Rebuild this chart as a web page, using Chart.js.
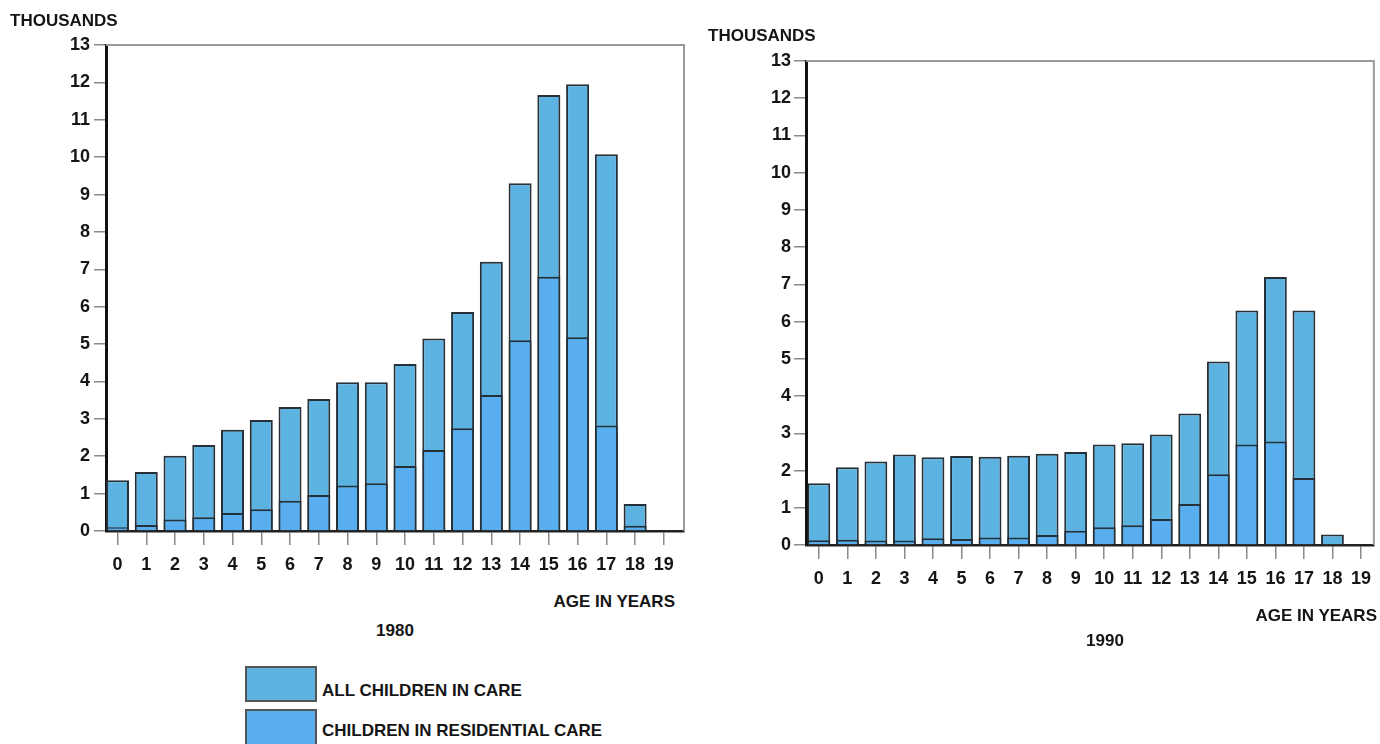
<!DOCTYPE html>
<html>
<head>
<meta charset="utf-8">
<script src="https://cdn.jsdelivr.net/npm/chart.js@4.4.1/dist/chart.umd.min.js"></script>
<style>
  html, body { margin:0; padding:0; background:#fff; }
  body { width:1380px; height:744px; position:relative; overflow:hidden;
         font-family:"Liberation Sans", Arial, sans-serif; font-weight:bold; color:#111; }
  .wrap { position:absolute; }
  .txt { position:absolute; line-height:1; white-space:nowrap; font-size:17px; font-weight:bold; color:#151515; }
  .box { position:absolute; border:2px solid #555; box-sizing:border-box; }
</style>
</head>
<body>
<div class="wrap" style="left:0;top:0;width:700px;height:590px;"><canvas id="c1"></canvas></div>
<div class="wrap" style="left:690px;top:0;width:690px;height:610px;"><canvas id="c2"></canvas></div>

<div class="txt" style="left:10px;top:20px;transform:translateY(-50%);">THOUSANDS</div>
<div class="txt" style="left:708px;top:35px;transform:translateY(-50%);">THOUSANDS</div>
<div class="txt" style="right:705px;top:601px;transform:translateY(-50%);">AGE IN YEARS</div>
<div class="txt" style="right:3px;top:615px;transform:translateY(-50%);">AGE IN YEARS</div>
<div class="txt" style="left:395px;top:630px;transform:translate(-50%,-50%);">1980</div>
<div class="txt" style="left:1105px;top:640px;transform:translate(-50%,-50%);">1990</div>

<div class="box" style="left:245px;top:666px;width:72px;height:36px;background:#5cb3e2;"></div>
<div class="box" style="left:245px;top:709px;width:72px;height:38px;background:#58aeee;"></div>
<div class="txt" style="left:322px;top:690px;transform:translateY(-50%);">ALL CHILDREN IN CARE</div>
<div class="txt" style="left:322px;top:730px;transform:translateY(-50%);">CHILDREN IN RESIDENTIAL CARE</div>

<script>
const ages = [0,1,2,3,4,5,6,7,8,9,10,11,12,13,14,15,16,17,18,19];
const yTicks = [0,1,2,3,4,5,6,7,8,9,10,11,12,13];

const all1980 = [1.36,1.58,2.01,2.30,2.71,2.97,3.32,3.53,3.98,3.98,4.47,5.15,5.86,7.20,9.30,11.66,11.95,10.08,0.72,null];
const res1980 = [0.10,0.16,0.31,0.37,0.48,0.58,0.81,0.96,1.22,1.28,1.74,2.17,2.75,3.64,5.10,6.80,5.18,2.82,0.14,null];

const all1990 = [1.66,2.09,2.24,2.43,2.36,2.39,2.37,2.40,2.45,2.50,2.70,2.73,2.97,3.53,4.93,6.30,7.20,6.30,0.28,null];
const res1990 = [0.13,0.14,0.12,0.12,0.18,0.16,0.20,0.20,0.27,0.38,0.48,0.53,0.70,1.10,1.90,2.70,2.78,1.80,0.03,null];

const seriesNames = ['ALL CHILDREN IN CARE','CHILDREN IN RESIDENTIAL CARE'];
const colAll = '#5cb3e2';
const colRes = '#58aeee';
const edge = '#263038';

const framePlugin = {
  id:'frame',
  afterDraw(chart){
    const a = chart.chartArea, ctx = chart.ctx;
    ctx.save();
    ctx.strokeStyle = '#9a9a9a';
    ctx.lineWidth = 2;
    ctx.beginPath();
    ctx.moveTo(a.left, a.top);
    ctx.lineTo(a.right, a.top);
    ctx.lineTo(a.right, a.bottom);
    ctx.stroke();
    ctx.restore();
  }
};

function makeChart(id, allVals, resVals, cfg){
  const pts = v => ages.map((a,i)=>({x:a, y:v[i]}));
  return new Chart(document.getElementById(id), {
    type:'bar',
    data:{
      datasets:[
        { label:seriesNames[1], data:pts(resVals), backgroundColor:colRes, borderColor:edge,
          borderWidth:{top:2,left:2,right:2,bottom:0}, borderSkipped:false, order:0 },
        { label:seriesNames[0], data:pts(allVals), backgroundColor:colAll, borderColor:edge,
          borderWidth:{top:2,left:2,right:2,bottom:0}, borderSkipped:false, order:1 }
      ]
    },
    options:{
      responsive:true, maintainAspectRatio:false, animation:false,
      devicePixelRatio:1,
      grouped:false,
      categoryPercentage:0.8, barPercentage:1.0,
      layout:{ padding:{ top:cfg.top, right:cfg.right, left:0, bottom:0 } },
      plugins:{ legend:{display:false}, tooltip:{enabled:false} },
      scales:{
        x:{
          type:'linear', min:cfg.xmin, max:cfg.xmax, offset:false,
          afterBuildTicks(s){ s.ticks = ages.map(v=>({value:v})); },
          afterFit(s){ s.height = cfg.xh; },
          ticks:{ autoSkip:false, maxRotation:0, padding:9, color:'#151515',
                  font:{ family:'"Liberation Sans", Arial, sans-serif', size:18, weight:'bold' },
                  callback:(v)=> String(v) },
          grid:{ display:true, offset:false, drawOnChartArea:false, drawTicks:true, tickLength:14, color:'#8a8a8a', lineWidth:1.5 },
          border:{ display:true, color:'#222', width:2.5 }
        },
        y:{
          min:0, max:13,
          afterBuildTicks(s){ s.ticks = yTicks.map(v=>({value:v})); },
          afterFit(s){ s.width = cfg.yw; },
          ticks:{ padding:cfg.ypad, color:'#151515',
                  font:{ family:'"Liberation Sans", Arial, sans-serif', size:18, weight:'bold' } },
          grid:{ display:true, drawOnChartArea:false, drawTicks:true, tickLength:12, color:'#8a8a8a', lineWidth:1.5 },
          border:{ display:true, color:'#111', width:3 }
        }
      }
    },
    plugins:[framePlugin]
  });
}

makeChart('c1', all1980, res1980, { top:45, right:16, xh:59, yw:106, xmin:-0.4, xmax:19.7, ypad:4 });
makeChart('c2', all1990, res1990, { top:61, right:0, xh:65, yw:116, xmin:-0.45, xmax:19.45, ypad:3 });
</script>
</body>
</html>
